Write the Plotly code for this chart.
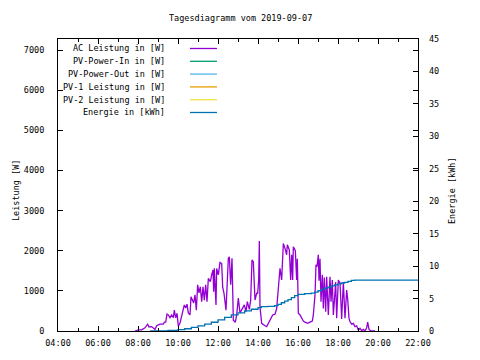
import plotly.graph_objects as go

DAY = "2019-09-07 "

# AC Leistung in [W]
ac_time = ["07:51","08:01","08:11","08:21","08:29","08:33","08:41","08:51","08:56","09:06",
           "09:16","09:19","09:23","09:27","09:31","09:36","09:41","09:46","09:49","09:53",
           "09:57","10:01","10:06","10:13","10:19","10:23","10:27","10:31","10:36","10:39",
           "10:43","10:47","10:51","10:55","10:59","11:03","11:07","11:11","11:15","11:19",
           "11:23","11:27","11:31","11:37","11:41","11:45","11:47","11:49","11:54","11:56",
           "12:01","12:06","12:11","12:14","12:18","12:24","12:31","12:34","12:38","12:42",
           "12:46","12:52","12:56","13:01","13:06","13:14","13:19","13:24","13:28","13:34",
           "13:38","13:42","13:46","13:51","13:56","13:59","14:02","14:04","14:06","14:11",
           "14:16","14:21","14:26","14:31","14:38","14:44","14:51","14:56","15:01","15:06",
           "15:11","15:16","15:21","15:26","15:28","15:34","15:38","15:41","15:44","15:46",
           "15:52","15:56","15:58","16:01","16:06","16:11","16:16","16:21","16:29","16:36",
           "16:43","16:46","16:49","16:51","16:54","16:57","17:01","17:03","17:06","17:09",
           "17:13","17:16","17:19","17:23","17:26","17:31","17:36","17:39","17:43","17:46",
           "17:49","17:53","17:56","18:01","18:06","18:11","18:16","18:21","18:26","18:29",
           "18:33","18:36","18:41","18:46","18:51","18:56","19:01","19:06","19:11","19:16",
           "19:21","19:26","19:29","19:33","19:39","19:46","19:51"]
ac_power = [0,30,30,80,170,100,110,40,130,170,
            170,220,220,420,400,330,400,330,520,330,
            440,120,200,470,650,570,670,450,400,850,
            770,700,900,520,1150,950,1100,730,1100,770,
            1150,730,1310,1230,1400,1520,980,1560,650,1560,
            1400,1710,1680,1100,940,520,1810,1850,1150,1810,
            270,220,400,820,450,570,650,480,730,540,
            770,1770,1720,770,940,940,1270,2240,600,190,
            150,130,110,190,330,400,420,560,1060,1560,
            1270,2180,2060,1900,2150,2020,1270,1900,1270,2100,
            2000,1270,1800,440,400,320,250,220,190,220,
            250,400,650,900,1650,1600,1900,1250,1800,730,
            1400,560,1330,480,1350,400,1350,730,1270,400,
            730,1220,320,1270,1200,300,1220,320,1020,800,
            320,230,170,190,110,130,25,70,10,40,
            0,80,220,40,0,0,0]

# Energie in [kWh]
en_time = ["08:36","09:00","09:30","10:00","10:20","10:40","11:00","11:20","11:40","12:00",
           "12:20","12:40","13:00","13:20","13:40","14:00","14:10","14:30","14:50","15:00",
           "15:10","15:20","15:30","15:40","15:50","16:00","16:20","16:40","16:50","17:00",
           "17:10","17:20","17:30","17:40","17:50","18:00","18:10","18:20","18:30","18:40",
           "18:50","22:00"]
en_kwh = [0.0,0.02,0.08,0.2,0.35,0.55,0.8,1.05,1.35,1.7,
          2.1,2.5,2.8,3.1,3.35,3.6,3.75,3.8,3.9,4.1,
          4.35,4.6,4.85,5.15,5.45,5.65,5.75,5.85,6.0,6.2,
          6.4,6.6,6.75,6.95,7.1,7.25,7.4,7.5,7.65,7.8,
          7.85,7.85]

legend_names = ["AC Leistung in [W]", "PV-Power-In in [W]", "PV-Power-Out in [W]",
                "PV-1 Leistung in [W]", "PV-2 Leistung in [W]", "Energie in [kWh]"]
legend_colors = ["#9400d3", "#009e73", "#56b4e9", "#e69f00", "#f0e442", "#0072b2"]

x_ticks = ["04:00","06:00","08:00","10:00","12:00","14:00","16:00","18:00","20:00","22:00"]

FONT = "DejaVu Sans Mono"
FS = 8.5

# page body has an 8px margin; figure is sized so the plot lands where the reference is
OFF = 8
FIG_W, FIG_H = 480 - OFF, 360 - OFF

fig = go.Figure()
fig.add_trace(go.Scatter(x=[DAY + t for t in ac_time], y=ac_power, mode="lines",
                         line=dict(color=legend_colors[0], width=1.3), showlegend=False))
fig.add_trace(go.Scatter(x=[DAY + t for t in en_time], y=en_kwh, mode="lines", yaxis="y2",
                         line=dict(color=legend_colors[5], width=1.3, shape="hv"), showlegend=False))

L, R, T, B = 58, 418, 39, 331
W_, H_ = R - L, B - T

def px(x):
    return (x - L) / W_

def py(y):
    return (B - y) / H_

annotations = []
shapes = []
for i, (n, c) in enumerate(zip(legend_names, legend_colors)):
    yy = py(48.5 + i * 12.8)
    annotations.append(dict(text=n, x=px(167), y=yy, xref="paper", yref="paper",
                            xanchor="right", yanchor="middle", showarrow=False,
                            font=dict(family=FONT, size=FS, color="black")))
    shapes.append(dict(type="line", xref="paper", yref="paper", x0=px(190), x1=px(217),
                       y0=yy, y1=yy, line=dict(color=c, width=1.3)))

annotations.append(dict(text="Tagesdiagramm vom 2019-09-07", x=px(240), y=py(18),
                        xref="paper", yref="paper", xanchor="center", yanchor="middle",
                        showarrow=False, font=dict(family=FONT, size=FS, color="black")))
annotations.append(dict(text="Leistung [W]", x=px(9), y=py(191), textangle=-90,
                        xref="paper", yref="paper", xanchor="left", yanchor="middle",
                        showarrow=False, font=dict(family=FONT, size=FS, color="black")))
annotations.append(dict(text="Energie [kWh]", x=px(452), y=py(191), textangle=-90,
                        xref="paper", yref="paper", xanchor="center", yanchor="middle",
                        showarrow=False, font=dict(family=FONT, size=FS, color="black")))

fig.update_layout(
    width=FIG_W, height=FIG_H,
    margin=dict(l=L - OFF, r=480 - R, t=T - OFF, b=360 - B, pad=0),
    paper_bgcolor="white", plot_bgcolor="white",
    font=dict(family=FONT, size=FS, color="black"),
    showlegend=False,
    annotations=annotations, shapes=shapes,
    xaxis=dict(type="date", range=[DAY + "04:00", DAY + "22:00"],
               tickvals=[DAY + t for t in x_ticks], ticktext=x_ticks,
               ticks="inside", ticklen=5, tickcolor="black",
               minor=dict(dtick=3600000, ticks="inside", ticklen=3, tickcolor="black"),
               showline=True, linecolor="black", linewidth=1, mirror="ticks",
               showgrid=False, zeroline=False, ticklabelstandoff=4),
    yaxis=dict(range=[0, 7275], dtick=1000, ticks="inside", ticklen=5, tickcolor="black",
               showline=True, linecolor="black", linewidth=1, mirror="ticks",
               showgrid=False, zeroline=False, ticklabelstandoff=11),
    yaxis2=dict(range=[0, 45], dtick=5, overlaying="y", side="right",
                ticks="inside", ticklen=5, tickcolor="black",
                showline=False, showgrid=False, zeroline=False, ticklabelstandoff=10),
)

fig.write_html("out.html")
